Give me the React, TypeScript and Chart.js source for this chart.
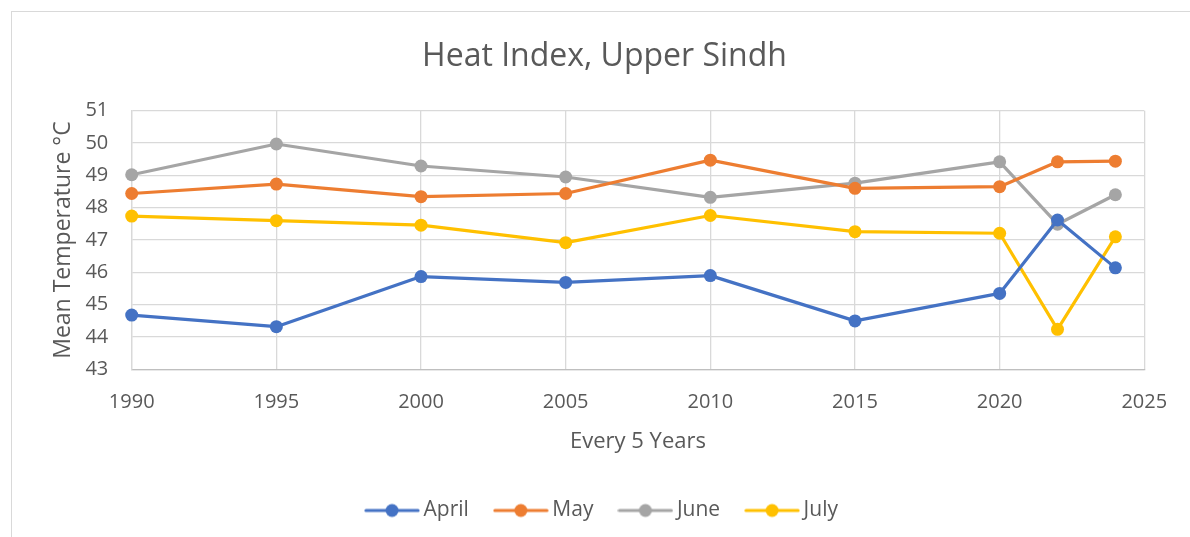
import React, { useEffect, useRef } from "react";
import { Chart, registerables } from "chart.js";

Chart.register(...registerables);

// ---- data ----
const years = [1990, 1995, 2000, 2005, 2010, 2015, 2020, 2022, 2024];
const april = [44.68, 44.32, 45.87, 45.69, 45.9, 44.5, 45.35, 47.62, 46.14];
const may = [48.44, 48.73, 48.34, 48.44, 49.47, 48.6, 48.65, 49.42, 49.44];
const june = [49.02, 49.97, 49.29, 48.95, 48.32, 48.76, 49.42, 47.49, 48.4];
const july = [47.74, 47.6, 47.46, 46.92, 47.76, 47.26, 47.21, 44.24, 47.1];
const seriesNames = ["April", "May", "June", "July"];
const xTickValues = [1990, 1995, 2000, 2005, 2010, 2015, 2020, 2025];
const yTickValues = [43, 44, 45, 46, 47, 48, 49, 50, 51];
const titleText = "Heat Index, Upper Sindh";
const xTitle = "Every 5 Years";
const yTitle = "Mean Temperature °C";

const colors = ["#4472C4", "#ED7D31", "#A5A5A5", "#FFC000"];
const TEXT = "#595959";
const FONT = "'Open Sans', 'Noto Sans', sans-serif";

const CANVAS_W = 1209;
const CANVAS_H = 537;

function legendIcon(color: string): HTMLCanvasElement {
  const c = document.createElement("canvas");
  c.width = 56;
  c.height = 16;
  const ctx = c.getContext("2d")!;
  ctx.strokeStyle = color;
  ctx.lineWidth = 3.2;
  ctx.lineCap = "round";
  ctx.beginPath();
  ctx.moveTo(2, 8);
  ctx.lineTo(54, 8);
  ctx.stroke();
  ctx.fillStyle = color;
  ctx.beginPath();
  ctx.arc(28, 8, 6.5, 0, Math.PI * 2);
  ctx.fill();
  return c;
}

export default function App() {
  const ref = useRef<HTMLCanvasElement | null>(null);

  useEffect(() => {
    if (!ref.current) return;
    const all = [april, may, june, july];
    const chart = new Chart(ref.current, {
      type: "line",
      data: {
        datasets: all.map((vals, i) => ({
          label: seriesNames[i],
          data: years.map((y, j) => ({ x: y, y: vals[j] })),
          borderColor: colors[i],
          backgroundColor: colors[i],
          borderWidth: 3.2,
          borderJoinStyle: "round" as const,
          borderCapStyle: "round" as const,
          pointRadius: 6.5,
          pointBorderWidth: 0,
          pointBackgroundColor: colors[i],
          pointHoverRadius: 6.5,
          tension: 0,
          clip: false as any,
          xAxisID: "x",
          yAxisID: "y",
        })),
      },
      options: {
        responsive: false,
        animation: false,
        devicePixelRatio: 1,
        layout: { padding: { left: 0, right: 0, top: 0, bottom: 6 } },
        plugins: {
          title: {
            display: true,
            text: titleText,
            color: TEXT,
            font: { family: FONT, size: 32, weight: "normal" as any, lineHeight: 1.2 },
            padding: { top: 37.2, bottom: 35.1 },
          },
          legend: {
            display: true,
            position: "bottom",
            labels: {
              usePointStyle: true,
              pointStyleWidth: 42,
              padding: 31,
              color: TEXT,
              font: { family: FONT, size: 21 },
              generateLabels: (ch: any) =>
                ch.data.datasets.map((ds: any, i: number) => ({
                  text: ds.label,
                  pointStyle: legendIcon(colors[i]),
                  fillStyle: colors[i],
                  strokeStyle: colors[i],
                  lineWidth: 0,
                  hidden: false,
                  datasetIndex: i,
                  fontColor: TEXT,
                })),
            },
          },
          tooltip: { enabled: false },
        },
        scales: {
          x: {
            type: "linear",
            position: "bottom",
            min: 1990,
            max: 2025,
            afterBuildTicks: (s: any) => {
              s.ticks = xTickValues.map((v) => ({ value: v }));
            },
            afterFit: (s: any) => {
              s.height = 99.6;
            },
            grid: { color: "#d9d9d9", lineWidth: 1.3, drawTicks: false },
            border: { display: true, color: "#bfbfbf", width: 1.3 },
            ticks: {
              color: TEXT,
              font: { family: FONT, size: 20 },
              padding: 21.2,
              maxRotation: 0,
              autoSkip: false,
              callback: (v: any) => String(v),
            },
            title: {
              display: true,
              text: xTitle,
              color: TEXT,
              font: { family: FONT, size: 22, lineHeight: 1.2 },
              padding: { top: 0, bottom: 14 },
            },
          },
          y: {
            type: "linear",
            position: "left",
            min: 43,
            max: 51,
            afterBuildTicks: (s: any) => {
              s.ticks = yTickValues.map((v) => ({ value: v }));
            },
            afterFit: (s: any) => {
              s.width = 131.7;
            },
            grid: { color: "#d9d9d9", lineWidth: 1.3, drawTicks: false },
            border: { display: true, color: "#d9d9d9", width: 1.3 },
            ticks: {
              color: TEXT,
              font: { family: FONT, size: 20 },
              padding: 23.4,
              callback: (v: any) => String(v),
            },
            title: {
              display: true,
              text: yTitle,
              color: TEXT,
              font: { family: FONT, size: 23, lineHeight: 1.2 },
              padding: { top: 49.3, bottom: 0 },
            },
          },
          yRight: {
            type: "linear",
            position: "right",
            display: true,
            afterFit: (s: any) => {
              s.width = CANVAS_W - 1144.3;
            },
            grid: { display: false, drawTicks: false },
            border: { display: false },
            ticks: { display: false },
          },
        },
      },
    });
    return () => chart.destroy();
  }, []);

  return (
    <div
      style={{
        position: "absolute",
        left: 0,
        top: 0,
        width: 1190,
        height: 537,
        overflow: "hidden",
        background: "#ffffff",
      }}
    >
      <div
        style={{
          position: "absolute",
          left: 11,
          top: 11,
          width: 1300,
          height: 700,
          border: "1.3px solid #d9d9d9",
          boxSizing: "border-box",
        }}
      />
      <canvas
        ref={ref}
        width={CANVAS_W}
        height={CANVAS_H}
        style={{ position: "absolute", left: 0, top: 0, width: CANVAS_W, height: CANVAS_H }}
      />
    </div>
  );
}
